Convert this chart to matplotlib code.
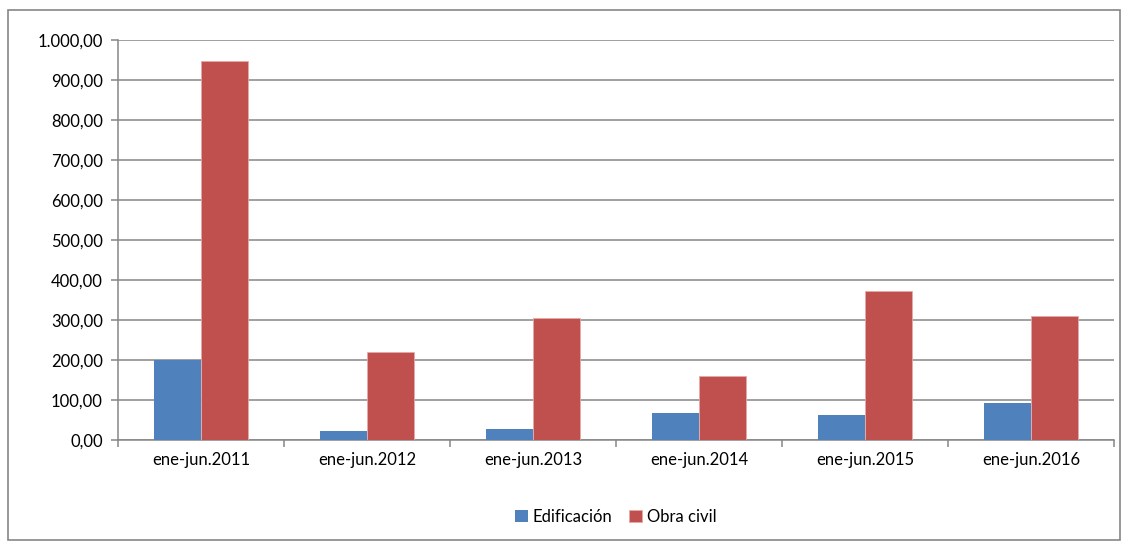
import numpy as np
import matplotlib.pyplot as plt
from matplotlib.patches import Rectangle
from matplotlib.ticker import FuncFormatter

plt.rcParams['font.family'] = ['Lato', 'DejaVu Sans']

# Datos
categorias = ["ene-jun.2011", "ene-jun.2012", "ene-jun.2013",
              "ene-jun.2014", "ene-jun.2015", "ene-jun.2016"]
edificacion = [201, 22.5, 28, 68, 63, 93]
obra_civil = [948, 220, 306, 159, 372, 309]

AZUL = '#4F81BD'
ROJO = '#C0504D'
GRIS = '#868686'


def fmt_es(v, pos):
    s = f"{v:,.2f}"
    return s.replace(",", "X").replace(".", ",").replace("X", ".")


fig = plt.figure(figsize=(11.29, 5.47), dpi=100)
ax = fig.add_axes([118 / 1129, 1 - 440 / 547, (1114 - 118) / 1129, 400 / 547])

x = np.arange(len(categorias))
w = 0.283
ax.bar(x - w / 2, edificacion, w, color=AZUL, label="Edificación", zorder=3)
ax.bar(x + w / 2, obra_civil, w, color=ROJO, edgecolor='#E6A9A8', linewidth=0.6,
       label="Obra civil", zorder=3)

ax.set_xlim(-0.5, len(categorias) - 0.5)
ax.set_ylim(0, 1000)
ax.set_yticks(np.arange(0, 1001, 100))
ax.yaxis.set_major_formatter(FuncFormatter(fmt_es))
ax.grid(axis='y', color=GRIS, linewidth=1.1, zorder=0)

# eje x: etiquetas centradas, marcas en los límites de categoría
ax.set_xticks(x)
ax.set_xticklabels(categorias)
ax.set_xticks(np.arange(-0.5, len(categorias)), minor=True)
ax.tick_params(axis='x', which='major', length=0, pad=9, labelsize=12)
ax.tick_params(axis='x', which='minor', length=5, color=GRIS, width=1.1)
ax.tick_params(axis='y', length=5, color=GRIS, width=1.1, pad=6, labelsize=12)

for lado in ['top', 'right']:
    ax.spines[lado].set_visible(False)
for lado in ['left', 'bottom']:
    ax.spines[lado].set_color(GRIS)
    ax.spines[lado].set_linewidth(1.1)

ax.legend(loc='center', bbox_to_anchor=(0.5, -0.1925), ncol=2, frameon=False,
          fontsize=12, handlelength=0.75, handleheight=0.75, handletextpad=0.3,
          columnspacing=1.0)

# marco exterior
fig.patches.append(Rectangle((8 / 1129, 1 - 540 / 547), (1120 - 8) / 1129, 530 / 547,
                             transform=fig.transFigure, fill=False,
                             edgecolor=GRIS, linewidth=1.2))

fig.savefig("out.png", dpi=100)
